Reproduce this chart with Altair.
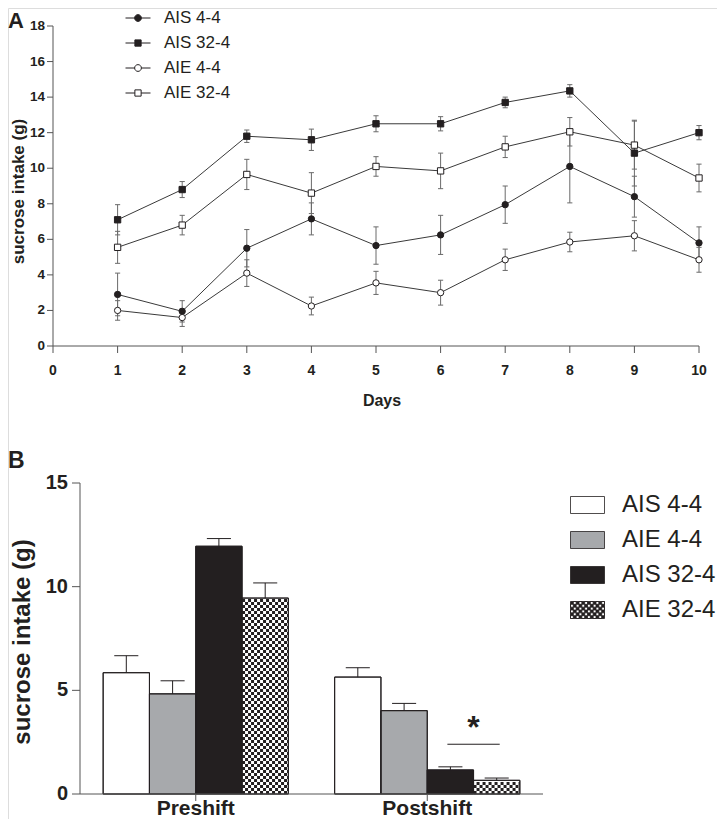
import json
import altair as alt
import pandas as pd

# ---------------- data: panel A (daily intake, mean and SEM) ----------------
days = [1, 2, 3, 4, 5, 6, 7, 8, 9, 10]
series_a = ["AIS 4-4", "AIS 32-4", "AIE 4-4", "AIE 32-4"]
ais44_mean = [2.9, 1.95, 5.5, 7.15, 5.65, 6.25, 7.95, 10.1, 8.4, 5.8]
ais44_err = [1.2, 0.6, 1.05, 0.9, 1.05, 1.1, 1.05, 2.05, 1.15, 0.9]
ais324_mean = [7.1, 8.8, 11.8, 11.6, 12.5, 12.5, 13.7, 14.35, 10.85, 12.0]
ais324_err = [0.85, 0.45, 0.35, 0.6, 0.45, 0.4, 0.3, 0.35, 1.85, 0.4]
aie44_mean = [2.0, 1.6, 4.1, 2.25, 3.55, 3.0, 4.85, 5.85, 6.2, 4.85]
aie44_err = [0.55, 0.5, 0.75, 0.5, 0.65, 0.7, 0.6, 0.55, 0.85, 0.7]
aie324_mean = [5.55, 6.8, 9.65, 8.6, 10.1, 9.85, 11.2, 12.05, 11.3, 9.45]
aie324_err = [0.9, 0.55, 0.85, 1.15, 0.55, 1.0, 0.6, 0.8, 1.35, 0.78]
y_ticks_a = [0, 2, 4, 6, 8, 10, 12, 14, 16, 18]
x_ticks_a = [0, 1, 2, 3, 4, 5, 6, 7, 8, 9, 10]
title_x_a = ["Days"]
title_y = ["sucrose intake (g)"]

# ---------------- data: panel B (pre/post shift) ----------------
phases = ["Preshift", "Postshift"]
series_b = ["AIS 4-4", "AIE 4-4", "AIS 32-4", "AIE 32-4"]
pre_mean = [5.85, 4.83, 11.95, 9.45]
pre_err = [0.82, 0.63, 0.37, 0.73]
post_mean = [5.64, 4.02, 1.16, 0.66]
post_err = [0.45, 0.35, 0.15, 0.11]
y_ticks_b = [0, 5, 10, 15]
sig_phase = ["Postshift"]
sig_first = ["AIS 32-4"]
sig_second = ["AIE 32-4"]
sig_line_y = [2.4]
sig_star_y = [2.7]
panel_labels = ["A", "B"]

# ---------------- layout / style constants ----------------
W, H = 709, 811
A_XD, A_YD = [0, 10], [0, 18]
B_XD, B_YD = [0.5, 2.5], [0, 15]
A_XR = [45, 691]
A_YR = [338, 18]
B_XR = [72, 535]
B_YR = [786, 475]
PXA_X = (A_XR[1] - A_XR[0]) / (A_XD[1] - A_XD[0])
PXA_Y = (A_YR[0] - A_YR[1]) / (A_YD[1] - A_YD[0])
PXB_X = (B_XR[1] - B_XR[0]) / (B_XD[1] - B_XD[0])
PXB_Y = (B_YR[0] - B_YR[1]) / (B_YD[1] - B_YD[0])
BAR_W = 0.2
CAP_A = 0.04
CAP_B = 0.052
SIG_HALF = 0.113
CELL_PX = 3
STEP = CELL_PX / PXB_Y
FONT = "Liberation Sans"
INK = "#231f20"
AXC = "#555555"
LINEC = "#3a3a3a"
ERRC = "#6a6a6a"
GRAY = "#a7a9ac"

# ---------------- tables ----------------
rows = []
for s, ms, es in zip(series_a, [ais44_mean, ais324_mean, aie44_mean, aie324_mean],
                     [ais44_err, ais324_err, aie44_err, aie324_err]):
    for d, m, e in zip(days, ms, es):
        rows.append({"day": d, "series": s, "mean": m, "lo": m - e, "hi": m + e})
dfA = pd.DataFrame(rows)

rowsB = []
for ph, ms, es in zip(phases, [pre_mean, post_mean], [pre_err, post_err]):
    for s, m, e in zip(series_b, ms, es):
        rowsB.append({"phase": ph, "series": s, "mean": m, "top": m + e, "base": 0})
dfB = pd.DataFrame(rowsB)

# checker texture rows for the AIE 32-4 bars
prow = []
for ph, ms in zip(phases, [pre_mean, post_mean]):
    v = ms[series_b.index("AIE 32-4")]
    k = 0
    while (k + 1) * STEP <= v + 1e-9:
        prow.append({"phase": ph, "series": "AIE 32-4", "yy": (k + 0.5) * STEP, "parity": k % 2})
        k += 1
dfP = pd.DataFrame(prow)

dfS = pd.DataFrame({"phase": sig_phase, "s1": sig_first, "s2": sig_second,
                    "ly": sig_line_y, "sy": sig_star_y})

PH = json.dumps(phases)
SE = json.dumps(series_b)
center_expr = f"indexof({PH}, datum.phase) + 1 + (indexof({SE}, datum.series) - 1.5) * {BAR_W}"

xA_scale = alt.Scale(domain=A_XD, range=A_XR, nice=False, zero=False)
yA_scale = alt.Scale(domain=A_YD, range=A_YR, nice=False, zero=False)
xB_scale = alt.Scale(domain=B_XD, range=B_XR, nice=False, zero=False)
yB_scale = alt.Scale(domain=B_YD, range=B_YR, nice=False, zero=False)


def XA(f):
    return alt.X(f, scale=xA_scale, axis=None)


def YA(f):
    return alt.Y(f, scale=yA_scale, axis=None)


def XB(f):
    return alt.X(f, scale=xB_scale, axis=None)


def YB(f):
    return alt.Y(f, scale=yB_scale, axis=None)


# ---------------- panel A: axes drawn through the scales ----------------
dom_a = pd.DataFrame({"x0": [A_XD[0]], "x1": [A_XD[1]], "y0": [A_YD[0]], "y1": [A_YD[1]]})
a_ydom = alt.Chart(dom_a).mark_rule(color=AXC, strokeWidth=1).encode(
    x=XA("x0:Q"), y=YA("y0:Q"), y2="y1:Q")
a_xdom = alt.Chart(dom_a).mark_rule(color=AXC, strokeWidth=1).encode(
    x=XA("x0:Q"), x2="x1:Q", y=YA("y0:Q"))
a_yt = alt.Chart(pd.DataFrame({"v": y_ticks_a})).transform_calculate(
    xa=f"{A_XD[0]}", xb=f"{A_XD[0]} - {6 / PXA_X}")
a_yticks = a_yt.mark_rule(color=AXC, strokeWidth=1).encode(x=XA("xa:Q"), x2="xb:Q", y=YA("v:Q"))
a_ylabels = a_yt.mark_text(font=FONT, fontSize=13.5, fontWeight="bold", color=INK,
                           align="right", baseline="middle", dx=-8).encode(
    x=XA("xa:Q"), y=YA("v:Q"), text=alt.Text("v:Q", format="d"))
a_xt = alt.Chart(pd.DataFrame({"v": x_ticks_a})).transform_calculate(
    ya=f"{A_YD[0]}", yb=f"{A_YD[0]} - {7 / PXA_Y}")
a_xticks = a_xt.mark_rule(color=AXC, strokeWidth=1).encode(x=XA("v:Q"), y=YA("ya:Q"), y2="yb:Q")
a_xlabels = a_xt.mark_text(font=FONT, fontSize=14, fontWeight="bold", color=INK,
                           align="center", baseline="alphabetic", dy=29).encode(
    x=XA("v:Q"), y=YA("ya:Q"), text=alt.Text("v:Q", format="d"))
a_xtitle = alt.Chart(pd.DataFrame({"t": title_x_a})).mark_text(
    font=FONT, fontSize=16, fontWeight="bold", color=INK, align="center", baseline="alphabetic"
).encode(text="t:N", x=alt.value(374), y=alt.value(398))
a_ytitle = alt.Chart(pd.DataFrame({"t": title_y})).mark_text(
    font=FONT, fontSize=17, fontWeight="bold", color=INK, align="center", baseline="middle",
    angle=270).encode(text="t:N", x=alt.value(10.5), y=alt.value(183.5))

# ---------------- panel A: data ----------------
baseA = alt.Chart(dfA)
linesA = baseA.mark_line(color=LINEC, strokeWidth=1).encode(
    x=XA("day:Q"), y=YA("mean:Q"), detail="series:N")
errA = baseA.mark_rule(color=ERRC, strokeWidth=1).encode(
    x=XA("day:Q"), y=YA("lo:Q"), y2="hi:Q")
capsA = baseA.transform_fold(["lo", "hi"], as_=["end", "val"]).transform_calculate(
    c0=f"datum.day - {CAP_A}", c1=f"datum.day + {CAP_A}"
).mark_rule(color=ERRC, strokeWidth=1).encode(x=XA("c0:Q"), x2="c1:Q", y=YA("val:Q"))
pointsA = baseA.mark_point(filled=True, opacity=1, size=40, stroke=INK, strokeWidth=1).encode(
    x=XA("day:Q"), y=YA("mean:Q"),
    shape=alt.Shape("series:N", scale=alt.Scale(domain=series_a,
                    range=["circle", "square", "circle", "square"]), legend=None),
    fill=alt.Fill("series:N", scale=alt.Scale(domain=series_a,
                  range=[INK, INK, "white", "white"]), legend=None),
)

circ = "M-1,0L-0.27,0M0.27,0L1,0M0.27,0A0.27,0.27,0,1,1,-0.27,0A0.27,0.27,0,1,1,0.27,0Z"
sq = "M-1,0L-0.25,0M0.25,0L1,0M-0.25,-0.25L0.25,-0.25L0.25,0.25L-0.25,0.25Z"
legA_kw = dict(title=None, orient="none", legendX=117, legendY=-3, symbolSize=625,
               symbolStrokeWidth=1, labelFont=FONT, labelFontSize=17, labelColor=INK,
               labelOffset=13, rowPadding=4, padding=0)
legendA = baseA.transform_filter("false").mark_point(filled=True, opacity=1, strokeWidth=1).encode(
    shape=alt.Shape("series:N", scale=alt.Scale(domain=series_a, range=[circ, sq, circ, sq]),
                    legend=alt.Legend(**legA_kw)),
    fill=alt.Fill("series:N", scale=alt.Scale(domain=series_a, range=[INK, INK, "white", "white"]),
                  legend=alt.Legend(**legA_kw)),
    stroke=alt.Stroke("series:N", scale=alt.Scale(domain=series_a, range=[INK, INK, INK, INK]),
                      legend=alt.Legend(**legA_kw)),
)

panelA = alt.layer(a_ydom, a_xdom, a_yticks, a_ylabels, a_xticks, a_xlabels, a_xtitle, a_ytitle,
                   linesA, errA, capsA, pointsA, legendA).resolve_scale(
    shape="independent", fill="independent", stroke="independent")

# ---------------- panel B: axes drawn through the scales ----------------
dom_b = pd.DataFrame({"x0": [B_XD[0]], "x1": [B_XD[1]], "y0": [B_YD[0]], "y1": [B_YD[1]]})
b_ydom = alt.Chart(dom_b).mark_rule(color=AXC, strokeWidth=1).encode(
    x=XB("x0:Q"), y=YB("y0:Q"), y2="y1:Q")
b_xdom = alt.Chart(dom_b).mark_rule(color=AXC, strokeWidth=1).encode(
    x=XB("x0:Q"), x2="x1:Q", y=YB("y0:Q"))
b_yt = alt.Chart(pd.DataFrame({"v": y_ticks_b})).transform_calculate(
    xa=f"{B_XD[0]}", xb=f"{B_XD[0]} - {8 / PXB_X}")
b_yticks = b_yt.mark_rule(color=AXC, strokeWidth=1).encode(x=XB("xa:Q"), x2="xb:Q", y=YB("v:Q"))
b_ylabels = b_yt.mark_text(font=FONT, fontSize=20, fontWeight="bold", color=INK,
                           align="right", baseline="middle", dx=-12).encode(
    x=XB("xa:Q"), y=YB("v:Q"), text=alt.Text("v:Q", format="d"))
b_xt = alt.Chart(pd.DataFrame({"label": phases})).transform_calculate(
    v=f"indexof({PH}, datum.label) + 1", ya=f"{B_YD[0]}", yb=f"{B_YD[0]} - {7 / PXB_Y}")
b_xticks = b_xt.mark_rule(color=AXC, strokeWidth=1).encode(x=XB("v:Q"), y=YB("ya:Q"), y2="yb:Q")
b_xlabels = b_xt.mark_text(font=FONT, fontSize=21, fontWeight="bold", color=INK,
                           align="center", baseline="alphabetic", dy=20.5).encode(
    x=XB("v:Q"), y=YB("ya:Q"), text="label:N")
b_ytitle = alt.Chart(pd.DataFrame({"t": title_y})).mark_text(
    font=FONT, fontSize=24, fontWeight="bold", color=INK, align="center", baseline="middle",
    angle=270).encode(text="t:N", x=alt.value(14.5), y=alt.value(634))


def pos(chart):
    return chart.transform_calculate(center=center_expr).transform_calculate(
        left=f"datum.center - {BAR_W / 2}", right=f"datum.center + {BAR_W / 2}",
        cl=f"datum.center - {CAP_B}", cr=f"datum.center + {CAP_B}")


bars = pos(alt.Chart(dfB)).mark_rect(stroke=INK, strokeWidth=1).encode(
    x=XB("left:Q"), x2="right:Q", y=YB("mean:Q"), y2="base:Q",
    fill=alt.Fill("series:N", scale=alt.Scale(domain=series_b,
                  range=["white", GRAY, INK, "white"]), legend=None),
)


def texture(par, off):
    return pos(alt.Chart(dfP)).transform_filter(f"datum.parity == {par}").mark_rule(
        color=INK, strokeWidth=CELL_PX, strokeDash=[CELL_PX, CELL_PX], strokeDashOffset=off
    ).encode(x=XB("left:Q"), x2="right:Q", y=YB("yy:Q"))


tex0 = texture(0, 0)
tex1 = texture(1, CELL_PX)

outline = pos(alt.Chart(dfB)).mark_rect(fillOpacity=0, stroke=INK, strokeWidth=1).encode(
    x=XB("left:Q"), x2="right:Q", y=YB("mean:Q"), y2="base:Q")
errB = pos(alt.Chart(dfB)).mark_rule(color=INK, strokeWidth=1).encode(
    x=XB("center:Q"), y=YB("mean:Q"), y2="top:Q")
capB = pos(alt.Chart(dfB)).mark_rule(color=INK, strokeWidth=1).encode(
    x=XB("cl:Q"), x2="cr:Q", y=YB("top:Q"))

sig_center = (f"indexof({PH}, datum.phase) + 1 + ((indexof({SE}, datum.s1) + "
              f"indexof({SE}, datum.s2)) / 2 - 1.5) * {BAR_W}")
sigBase = alt.Chart(dfS).transform_calculate(mid=sig_center).transform_calculate(
    a=f"datum.mid - {SIG_HALF}", b=f"datum.mid + {SIG_HALF}")
sigLine = sigBase.mark_rule(color=INK, strokeWidth=1).encode(
    x=XB("a:Q"), x2="b:Q", y=YB("ly:Q"))
sigStar = sigBase.mark_text(text="*", font=FONT, fontSize=32, fontWeight="bold",
                            color=INK, baseline="alphabetic", align="center").encode(
    x=XB("mid:Q"), y=YB("sy:Q"))

rect_p = "M-1,-0.5L1,-0.5L1,0.5L-1,0.5Z"
cell = 1.0 / 6.0
holes = []
for i in range(12):
    for j in range(6):
        if (i + j) % 2 == 1:
            x0 = -1 + i * cell
            y0 = -0.5 + j * cell
            holes.append(f"M{x0:.4f},{y0:.4f}L{x0:.4f},{y0 + cell:.4f}"
                         f"L{x0 + cell:.4f},{y0 + cell:.4f}L{x0 + cell:.4f},{y0:.4f}Z")
checker_p = rect_p + "".join(holes)

legB_kw = dict(title=None, orient="none", legendX=562, legendY=479.5, symbolSize=1156,
               symbolStrokeWidth=0.8, labelFont=FONT, labelFontSize=24, labelColor=INK,
               labelOffset=17, rowPadding=5, padding=0)
legendB = alt.Chart(dfB).transform_filter("false").mark_point(filled=True, opacity=1, strokeWidth=0.8).encode(
    shape=alt.Shape("series:N", scale=alt.Scale(domain=series_b,
                    range=[rect_p, rect_p, rect_p, checker_p]), legend=alt.Legend(**legB_kw)),
    fill=alt.Fill("series:N", scale=alt.Scale(domain=series_b,
                  range=["white", GRAY, INK, INK]), legend=alt.Legend(**legB_kw)),
    stroke=alt.Stroke("series:N", scale=alt.Scale(domain=series_b,
                      range=[INK, INK, INK, INK]), legend=alt.Legend(**legB_kw)),
)

panelB = alt.layer(bars, tex0, tex1, outline, errB, capB, sigLine, sigStar,
                   b_ydom, b_xdom, b_yticks, b_ylabels, b_xticks, b_xlabels, b_ytitle,
                   legendB).resolve_scale(
    fill="independent", shape="independent", stroke="independent")

# ---------------- panel letters ----------------
letA = alt.Chart(pd.DataFrame({"t": [panel_labels[0]]})).mark_text(
    font=FONT, fontSize=22, fontWeight="bold", color=INK, align="left", baseline="alphabetic"
).encode(text="t:N", x=alt.value(0), y=alt.value(20))
letB = alt.Chart(pd.DataFrame({"t": [panel_labels[1]]})).mark_text(
    font=FONT, fontSize=23, fontWeight="bold", color=INK, align="left", baseline="alphabetic"
).encode(text="t:N", x=alt.value(0), y=alt.value(460))

chart = alt.layer(panelA, panelB, letA, letB).resolve_scale(
    x="independent", y="independent", shape="independent", fill="independent",
    stroke="independent"
).properties(
    width=W, height=H, padding=0, autosize=alt.AutoSizeParams(type="none")
).configure_view(strokeWidth=0).configure(font=FONT, background="white")

chart.save("out.html", embed_options={"renderer": "svg", "actions": False})
